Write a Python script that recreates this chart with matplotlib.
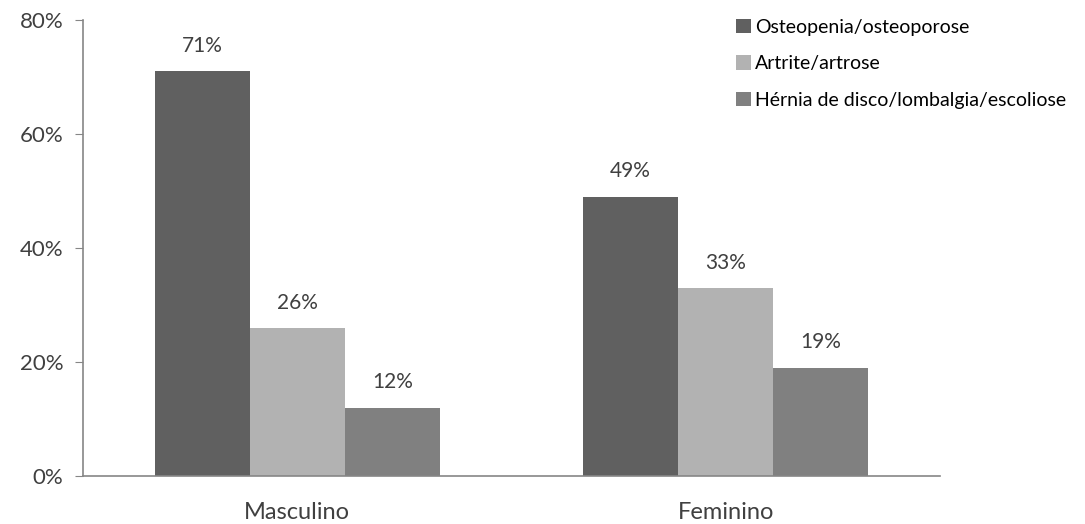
import numpy as np
import matplotlib.pyplot as plt
from matplotlib.ticker import PercentFormatter

plt.rcParams['font.family'] = ['Lato', 'DejaVu Sans']

groups = ["Masculino", "Feminino"]
series_names = ["Osteopenia/osteoporose", "Artrite/artrose",
                "Hérnia de disco/lombalgia/escoliose"]
osteo = [71, 49]
artrite = [26, 33]
hernia = [12, 19]
colors = ["#606060", "#b2b2b2", "#808080"]
text_color = "#404040"
axis_color = "#868686"


def plot_main():
    fig = plt.figure(figsize=(10.85, 5.24), dpi=100)
    ax = fig.add_axes([0.0765, 0.0916, 0.7899, 0.8702])

    x = np.arange(len(groups))
    width = 0.222
    for i, (vals, name) in enumerate(zip([osteo, artrite, hernia], series_names)):
        bars = ax.bar(x + (i - 1) * width, vals, width, color=colors[i],
                      label=name, linewidth=0)
        for b, v in zip(bars, vals):
            ax.annotate("{0}%".format(v), (b.get_x() + b.get_width() / 2, v),
                        xytext=(0, 11), textcoords="offset points",
                        ha="center", va="bottom", fontsize=15,
                        color=text_color)

    ax.set_xlim(-0.5, 1.5)
    ax.set_ylim(0, 80)
    ax.set_yticks([0, 20, 40, 60, 80])
    ax.yaxis.set_major_formatter(PercentFormatter(decimals=0))
    ax.set_xticks(x)
    ax.set_xticklabels(groups)
    ax.tick_params(axis="x", length=0, pad=19, labelsize=17,
                   labelcolor=text_color)
    ax.tick_params(axis="y", length=6, color=axis_color, pad=8,
                   labelsize=16, labelcolor=text_color)
    for side in ["top", "right"]:
        ax.spines[side].set_visible(False)
    for side in ["left", "bottom"]:
        ax.spines[side].set_color(axis_color)
        ax.spines[side].set_linewidth(1.2)

    fig.legend(loc="upper left", bbox_to_anchor=(0.666, 0.99),
               frameon=False, fontsize=14, handlelength=0.75,
               handleheight=0.75, handletextpad=0.2, labelspacing=1.0,
               borderaxespad=0.3, labelcolor="black")

    fig.savefig("out.png", dpi=100)


if __name__ == '__main__':
    plot_main()
